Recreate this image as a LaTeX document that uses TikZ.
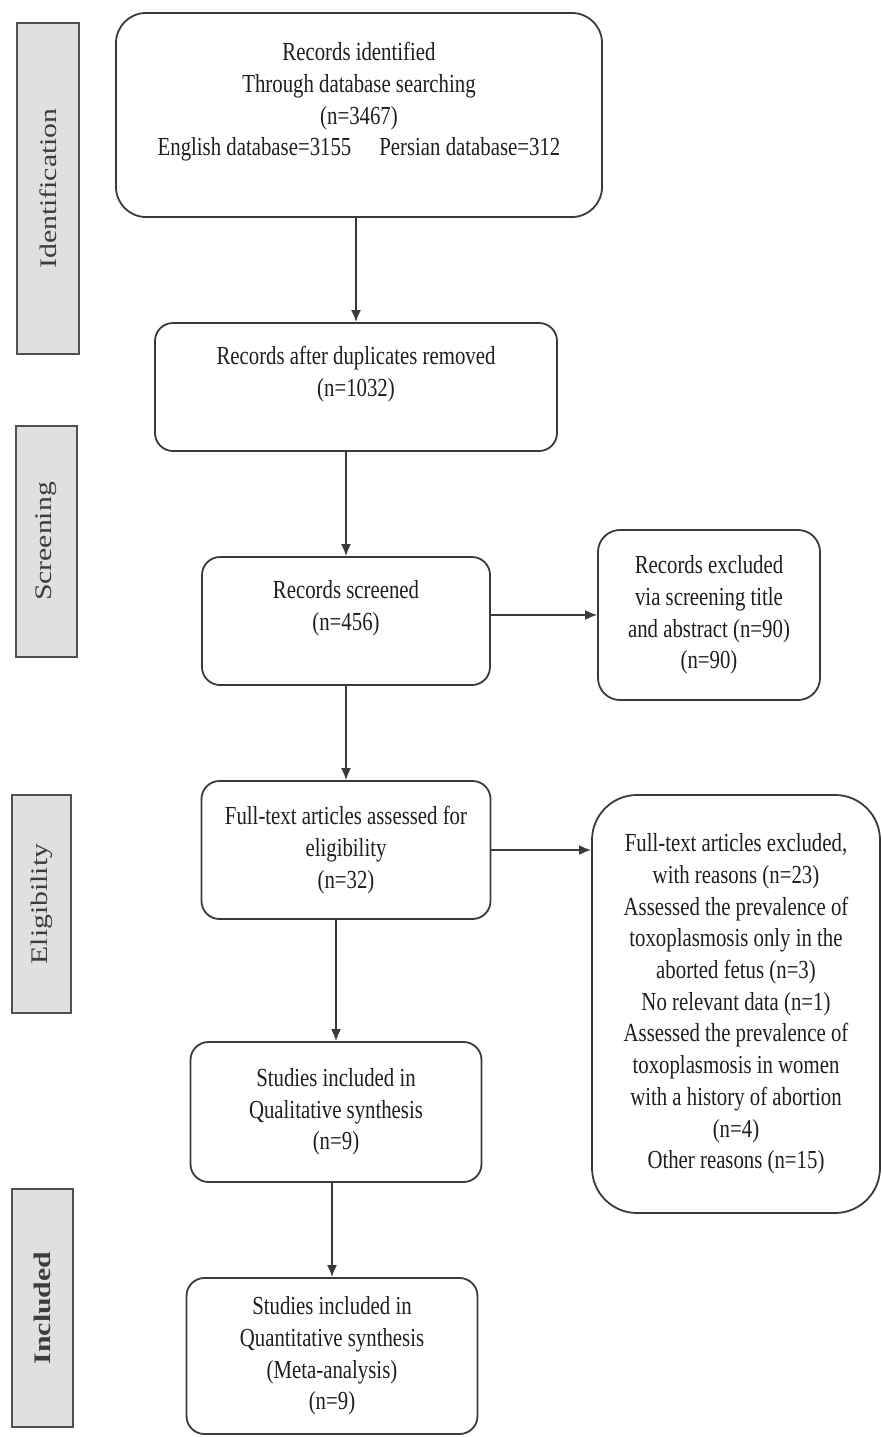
\documentclass[tikz,border=0pt]{standalone}
\usepackage{fontspec}
\setmainfont{Liberation Serif}[FakeStretch=0.8]
\newfontfamily\phasefont{Liberation Serif}[FakeStretch=1.25]
\usetikzlibrary{arrows.meta,positioning}
\definecolor{boxline}{HTML}{3A3A3A}
\definecolor{boxtext}{HTML}{1E1E1E}
\definecolor{phasefill}{HTML}{E0E0E0}
\definecolor{phaseline}{HTML}{505050}
\definecolor{phasetext}{HTML}{3C3C3C}
\tikzset{%
	stage/.style    = {draw=boxline, line width=1.8pt, rectangle, rounded corners=18pt, align=center, text=boxtext, font=\fontsize{26}{31.7}\selectfont}, % flow box
	phase/.style    = {draw=phaseline, fill=phasefill, line width=2.6pt, rectangle, rotate=90, text=phasetext, font=\phasefont\fontsize{23.8}{28}\selectfont}, % side label
	arrow/.style    = {draw=boxline, line width=1.8pt, -{Latex[length=12pt,width=10pt]}},
}

\begin{document}
\begin{tikzpicture}[x=1pt,y=-1pt]
	\useasboundingbox (0,0) rectangle (882,1437);
	\node [stage, rounded corners=30pt, minimum width=486pt, minimum height=204pt] (found) at (359,115) {Records identified\\Through database searching\\(n=3467)\\English database=3155\hspace{28pt}Persian database=312\\};
	\node [stage, minimum width=402pt, minimum height=128pt] (dedup) [below of=found, node distance=272pt, xshift=-3pt] {Records after duplicates removed\\(n=1032)\\};
	\node [stage, minimum width=288pt, minimum height=128pt] (screened) [below of=dedup, node distance=234pt, xshift=-10pt] {Records screened\\(n=456)\\};
	\node [stage, rounded corners=22pt, minimum width=222pt, minimum height=170pt] (dropped) [right of=screened, node distance=363pt, yshift=6pt] {Records excluded\\via screening title\\and abstract (n=90)\\(n=90)};
	\node [stage, minimum width=289pt, minimum height=138pt] (fulltext) [below of=screened, node distance=229pt] {Full-text articles assessed for\\eligibility\\(n=32)};
	\node [stage, rounded corners=45pt, minimum width=288pt, minimum height=418pt] (excluded) [right of=fulltext, node distance=390pt, yshift=-154pt] {Full-text articles excluded,\\with reasons (n=23)\\Assessed the prevalence of\\toxoplasmosis only in the\\aborted fetus (n=3)\\No relevant data (n=1)\\Assessed the prevalence of\\toxoplasmosis in women\\with a history of abortion\\(n=4)\\Other reasons (n=15)};
	\node [stage, minimum width=291pt, minimum height=140pt] (qual) [below of=fulltext, node distance=262pt, xshift=-10pt] {Studies included in\\Qualitative synthesis\\(n=9)};
	\node [stage, minimum width=291pt, minimum height=156pt] (quant) [below of=qual, node distance=244pt, xshift=-4pt] {Studies included in\\Quantitative synthesis\\(Meta-analysis)\\(n=9)};

	% phases
	\node [phase, minimum width=331pt, minimum height=62pt] (ident) at (48,188.5) {Identification};
	\node [phase, minimum width=231pt, minimum height=61pt] (screen) at (46.5,541.5) {Screening};
	\node [phase, minimum width=218pt, minimum height=59pt] (elig) at (41.5,904) {Eligibility};
	\node [phase, minimum width=238pt, minimum height=61pt, font=\phasefont\bfseries\fontsize{23.8}{28}\selectfont] (incl) at (42.5,1308) {Included};

	\draw [arrow] (found.south -| dedup.north) -- (dedup.north);
	\draw [arrow] (dedup.south -| screened.north) -- (screened.north);
	\draw [arrow] (screened.east |- dropped.west) -- (dropped.west);
	\draw [arrow] (screened.south -| fulltext.north) -- (fulltext.north);
	\draw [arrow] (fulltext.east) -- (fulltext.east -| excluded.west);
	\draw [arrow] (fulltext.south -| qual.north) -- (qual.north);
	\draw [arrow] (qual.south -| quant.north) -- (quant.north);
\end{tikzpicture}
\end{document}
